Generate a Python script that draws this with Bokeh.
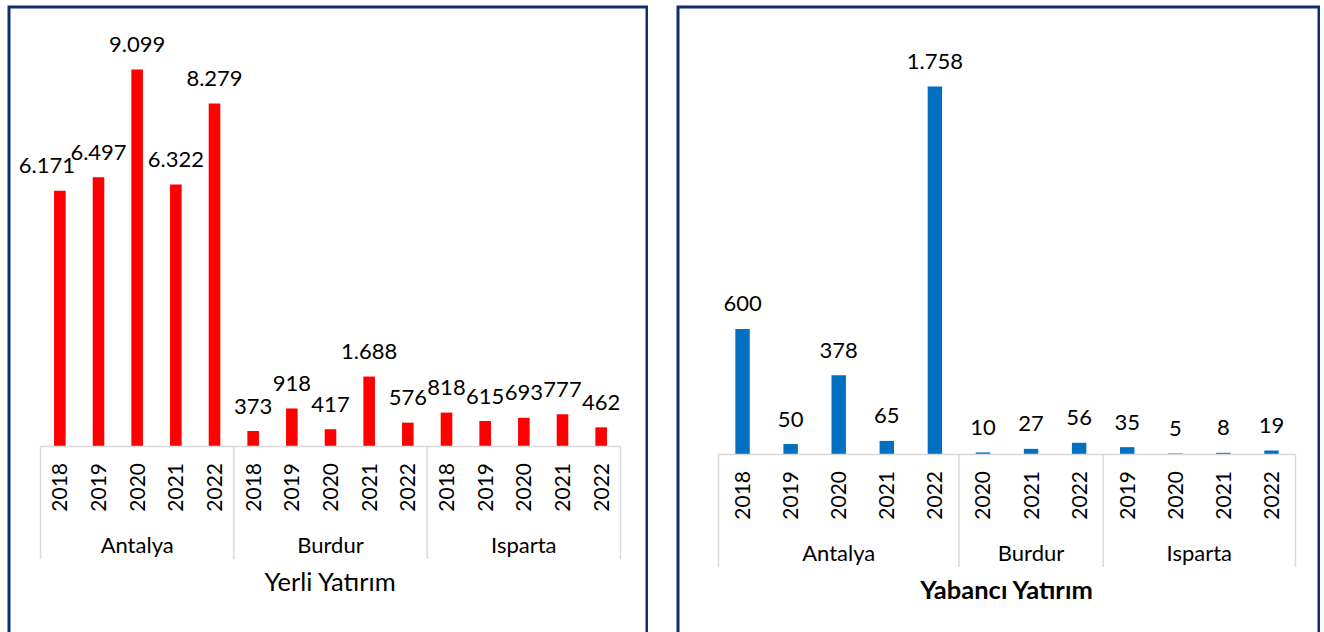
import numpy as np
from bokeh.plotting import figure
from bokeh.models import Range1d, Spacer, ColumnDataSource
from bokeh.layouts import row, column
from bokeh.embed import file_html
from bokeh.resources import INLINE
from bokeh.core.properties import value

# ---------------- data ----------------
yerli_groups = ["Antalya", "Burdur", "Isparta"]
yerli_years = [["2018", "2019", "2020", "2021", "2022"],
               ["2018", "2019", "2020", "2021", "2022"],
               ["2018", "2019", "2020", "2021", "2022"]]
yerli_values = [[6171, 6497, 9099, 6322, 8279],
                [373, 918, 417, 1688, 576],
                [818, 615, 693, 777, 462]]
yerli_title = "Yerli Yatırım"

yabanci_groups = ["Antalya", "Burdur", "Isparta"]
yabanci_years = [["2018", "2019", "2020", "2021", "2022"],
                 ["2020", "2021", "2022"],
                 ["2019", "2020", "2021", "2022"]]
yabanci_values = [[600, 50, 378, 65, 1758],
                  [10, 27, 56],
                  [35, 5, 8, 19]]
yabanci_title = "Yabancı Yatırım"

# label nudges (screen px) used to avoid overlapping value labels
yerli_label_dx = [-13] + [0] * 14
yabanci_label_dx = [0] * 12

FONT = value("Lato")
NAVY = "#102F6B"
GRID = "#D9D9D9"


def fmt(v):
    return f"{v:,}".replace(",", ".")


def panel(groups, years, vals, label_dx, color, title, title_style, W, H,
          x0px, x1px, base_px, maxtop_px, bar_w):
    flat_vals = [v for g in vals for v in g]
    flat_years = [y for g in years for y in g]
    counts = [len(g) for g in vals]
    n = len(flat_vals)
    xs = np.arange(n) + 0.5
    cw = (x1px - x0px) / n
    k = max(flat_vals) / (base_px - maxtop_px)
    xr = Range1d(-x0px / cw, n + (W - x1px) / cw)
    yr = Range1d(-(H - base_px) * k, base_px * k)
    p = figure(width=W, height=H, x_range=xr, y_range=yr,
               output_backend="svg", toolbar_location=None,
               x_axis_location=None, y_axis_location=None,
               min_border=0, outline_line_color=None,
               background_fill_color="white", border_fill_color="white")
    p.grid.visible = False

    p.vbar(x=xs, top=flat_vals, width=bar_w, fill_color=color, line_color=None)

    # axis baseline and group separators
    bounds = np.concatenate([[0], np.cumsum(counts)])
    p.segment(x0=[0], y0=[0], x1=[n], y1=[0], line_color=GRID, line_width=1.5)
    p.segment(x0=bounds, y0=np.zeros(len(bounds)), x1=bounds,
              y1=np.full(len(bounds), -112.5 * k), line_color=GRID, line_width=1.5)

    # value labels
    src = ColumnDataSource(dict(x=xs, y=flat_vals, t=[fmt(v) for v in flat_vals],
                                dx=label_dx))
    p.text(x="x", y="y", text="t", x_offset="dx", source=src,
           text_font=FONT, text_font_size="22px", text_color="black",
           text_align="center", text_baseline="alphabetic", y_offset=-25)

    # year labels (vertical)
    p.text(x=xs, y=np.full(n, -16.5 * k), text=flat_years, angle=np.pi / 2,
           text_font=FONT, text_font_size="21px", text_color="black",
           text_align="right", text_baseline="middle")

    # group labels
    centers = (bounds[:-1] + bounds[1:]) / 2
    p.text(x=centers, y=np.full(len(centers), -97.5 * k), text=groups,
           text_font=FONT, text_font_size="22px", text_color="black",
           text_align="center", text_baseline="alphabetic")

    # title
    p.text(x=[n / 2], y=[-134 * k], text=[title], text_font=FONT,
           text_font_size="25.5px", text_font_style=title_style, text_color="black",
           text_align="center", text_baseline="alphabetic")

    # panel border (top, left, right)
    p.multi_line(xs=[[xr.start, xr.start, xr.end, xr.end]],
                 ys=[[yr.start, yr.end, yr.end, yr.start]],
                 line_color=NAVY, line_width=6)
    return p


p1 = panel(yerli_groups, yerli_years, yerli_values, yerli_label_dx, "#FF0000",
           yerli_title, "normal", 641, 627, 33, 613, 441, 64, 0.3)
p2 = panel(yabanci_groups, yabanci_years, yabanci_values, yabanci_label_dx, "#0070C0",
           yabanci_title, "bold", 644, 627, 42, 619, 449, 81, 0.3)

layout = column(Spacer(height=5),
                row(Spacer(width=7), p1, Spacer(width=28), p2, spacing=0),
                spacing=0)
open("out.html", "w").write(file_html(layout, INLINE))
